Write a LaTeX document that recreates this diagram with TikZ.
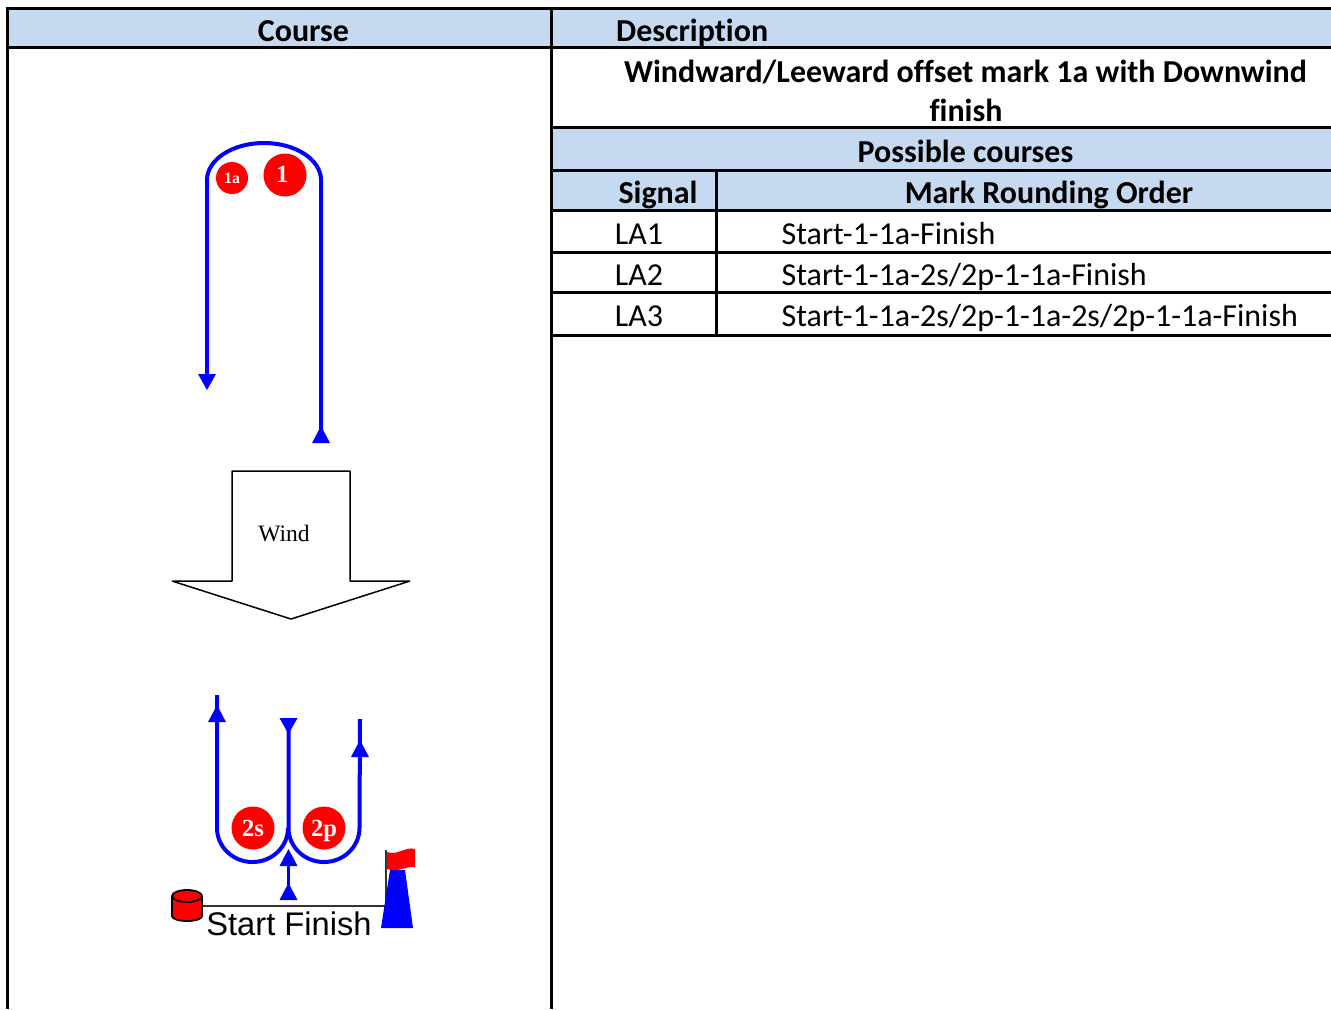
\documentclass[tikz,border=0pt]{standalone}
\usepackage{fontspec}
\setmainfont[RawFeature=-liga]{Carlito}
\newfontfamily\markfont{Liberation Serif}
\newfontfamily\startfont{Liberation Sans}
\usetikzlibrary{arrows.meta}
\definecolor{headblue}{HTML}{C5D9F1}
\tikzset{
  rule/.style={line width=0.03cm, black},
  course/.style={line width=0.04cm, blue},
  headtext/.style={font=\fontsize{9.1pt}{10pt}\selectfont\bfseries, anchor=base, inner sep=0pt},
  celltext/.style={font=\fontsize{9.1pt}{10pt}\selectfont, anchor=base, inner sep=0pt},
  markball/.style={circle, fill=red, text=white, inner sep=0pt, font=\markfont\bfseries},
  bigball/.style={markball, minimum size=0.43cm, text height=4.7pt, text depth=0pt, font=\markfont\bfseries\fontsize{7pt}{8pt}\selectfont},
  uptip/.pic={\fill[blue] (0,0) -- (0.09,0.17) -- (-0.09,0.17) -- cycle;},
  downtip/.pic={\fill[blue] (0,0) -- (0.09,-0.16) -- (-0.09,-0.16) -- cycle;}
}
\begin{document}
\begin{tikzpicture}[x=1cm,y=-1cm]
  \useasboundingbox (0,0) rectangle (13.31,10.09);
  % table fills
  \fill[headblue] (0.07,0.08) rectangle (13.31,0.47);
  \fill[headblue] (5.51,1.28) rectangle (13.31,2.10);
  % table rules
  \draw[rule] (13.31,0.08) -- (0.075,0.08) -- (0.075,10.09);
  \draw[rule] (0.075,0.475) -- (13.31,0.475);
  \draw[rule] (5.51,0.08) -- (5.51,10.09);
  \draw[rule] (5.51,1.275) -- (13.31,1.275);
  \draw[rule] (5.51,1.70) -- (13.31,1.70);
  \draw[rule] (5.51,2.10) -- (13.31,2.10);
  \draw[rule] (5.51,2.525) -- (13.31,2.525);
  \draw[rule] (5.51,2.925) -- (13.31,2.925);
  \draw[rule] (5.51,3.355) -- (13.31,3.355);
  \draw[rule] (7.165,1.70) -- (7.165,3.355);
  % table text
  \node[headtext] (coursehead) at (3.035,0.417) {Course};
  \node[headtext, anchor=base west] (deschead) at (6.155,0.417) {Description};
  \node[headtext] (titleone) at (9.655,0.827) {Windward/Leeward offset mark 1a with Downwind};
  \node[headtext] (titletwo) at (9.66,1.217) {finish};
  \node[headtext] (possible) at (9.655,1.627) {Possible courses};
  \node[headtext] (signal) at (6.58,2.037) {Signal};
  \node[headtext] (order) at (10.49,2.037) {Mark Rounding Order};
  \node[celltext] (laone) at (6.39,2.447) {LA1};
  \node[celltext] (latwo) at (6.39,2.857) {LA2};
  \node[celltext] (lathree) at (6.39,3.267) {LA3};
  \node[celltext, anchor=base west] (orderone) at (7.81,2.447) {Start-1-1a-Finish};
  \node[celltext, anchor=base west] (ordertwo) at (7.81,2.857) {Start-1-1a-2s/2p-1-1a-Finish};
  \node[celltext, anchor=base west] (orderthree) at (7.81,3.267) {Start-1-1a-2s/2p-1-1a-2s/2p-1-1a-Finish};
  % upper marks
  \draw[course] (3.21,4.41) -- (3.21,1.80) arc (0:-180:0.57 and 0.37) -- (2.07,3.76);
  \pic at (3.21,4.26) {uptip};
  \pic at (2.07,3.90) {downtip};
  \node[markball, minimum size=0.32cm, font=\markfont\bfseries\fontsize{4.5pt}{5pt}\selectfont] (markonea) at (2.32,1.78) {1a};
  \node[bigball] (markone) at (2.85,1.75) {\raisebox{0.3pt}{1\kern1.5pt}};
  % wind
  \draw[line width=0.015cm, miter limit=1] (2.32,4.71) -- (3.50,4.71) -- (3.50,5.81) -- (4.10,5.81) -- (2.91,6.19) -- (1.72,5.81) -- (2.32,5.81) -- cycle;
  \node[font=\markfont\fontsize{6.7pt}{8pt}\selectfont, inner sep=0pt] (wind) at (2.84,5.33) {Wind};
  % lower marks
  \draw[course] (2.17,6.95) -- (2.17,8.28) arc (180:0:0.355 and 0.34);
  \draw[course] (2.885,7.20) -- (2.885,8.28) arc (180:0:0.355 and 0.34) -- (3.60,7.19);
  \pic at (2.17,7.05) {uptip};
  \pic at (3.60,7.40) {uptip};
  \pic at (2.885,7.34) {downtip};
  \draw[blue, line width=0.025cm] (2.885,8.98) -- (2.885,8.60);
  \pic at (2.885,8.83) {uptip};
  \pic at (2.885,8.49) {uptip};
  \node[bigball] (marktwos) at (2.53,8.28) {2s};
  \node[bigball] (marktwop) at (3.24,8.28) {2p};
  % start line
  \draw[line width=0.025cm, black!80] (2.00,9.06) -- (3.86,9.06) -- (3.86,8.50);
  \fill[blue] (3.90,8.70) -- (4.05,8.70) -- (4.13,9.28) -- (3.81,9.28) -- cycle;
  \fill[red] (3.87,8.52) .. controls (3.98,8.56) and (4.05,8.46) .. (4.15,8.49) -- (4.15,8.67) .. controls (4.05,8.66) and (3.98,8.73) .. (3.87,8.69) -- cycle;
  \filldraw[fill=red, draw=black, line width=0.018cm] (1.72,8.96) -- (1.72,9.16) arc (180:0:0.15 and 0.05) -- (2.02,8.96) arc (0:-180:0.15 and 0.06) arc (180:0:0.15 and 0.06);
  \node[font=\startfont\fontsize{9.3pt}{11pt}\selectfont, inner sep=0pt, anchor=base] (startfinish) at (2.89,9.35) {Start Finish};
\end{tikzpicture}
\end{document}
